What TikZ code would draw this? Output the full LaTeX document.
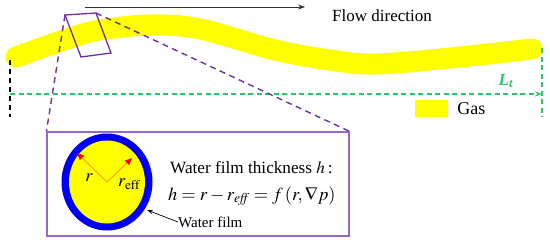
\documentclass[tikz,border=0pt]{standalone}
\usepackage{mathptmx}
\usepackage{fontspec}
\setmainfont{Liberation Serif}
\usetikzlibrary{arrows.meta,positioning}
\definecolor{Pipe}{HTML}{FFFF00}
\definecolor{Film}{HTML}{0000F0}
\definecolor{Purple}{HTML}{7030A0}
\definecolor{Frame}{HTML}{9966CC}
\definecolor{Green}{HTML}{2DC46A}
\definecolor{Orange}{HTML}{FF9A1E}
\tikzset{
  zoomline/.style={Purple,line width=1.4pt,dash pattern=on 6pt off 4.5pt},
  lenline/.style={Green,line width=1.8pt,dash pattern=on 5pt off 3.5pt},
  radarrow/.style={Orange,line width=0.9pt,-{Triangle[length=7pt,width=6pt,color=red]}},
  lab/.style={inner sep=0pt,anchor=west},
}
\newcommand{\fsz}[1]{\fontsize{#1}{#1}\selectfont}

\begin{document}
\begin{tikzpicture}[x=1pt,y=-1pt]
  \useasboundingbox (0,0) rectangle (550,242);
  \draw[Pipe,line width=21pt,line cap=round] plot[smooth,tension=0.6] coordinates
    {(16,57) (67,39) (100,30) (150,25) (200,29) (275,50) (330,60) (375,64) (450,58) (532,49)};
  % flow direction
  \coordinate (flowA) at (85,7);
  \coordinate (flowB) at (305,7);
  \draw[line width=0.7pt,black!80,-{Stealth[length=7pt,width=5pt]}] (flowA) -- (flowB);
  \node[lab,font=\fsz{17}] (flow) at (332,16) {Flow direction};
  % length of the pipe
  \coordinate (lenL) at (10,94);
  \coordinate (lenR) at (542,94);
  \draw[lenline,-{Stealth[length=7pt,width=5pt]}] (lenL) -- (lenR);
  \draw[black,line width=1.5pt,dash pattern=on 5pt off 4pt] (10,60) -- (10,117);
  \draw[lenline] (542,48) -- (542,117);
  \node[Green,font=\fsz{17},inner sep=0pt] (Lt) at (506,81) {\textbf{\textit{L}}\textsubscript{\textbf{\textit{t}}}};
  \node[fill=Pipe,minimum width=33pt,minimum height=17pt,inner sep=0pt] (swatch) at (431.5,108.5) {};
  \node[right=9pt of swatch,inner sep=0pt,font=\fsz{18}] (gas) {Gas};
  % zoomed section
  \coordinate (pA) at (65,15);
  \coordinate (pB) at (96,13);
  \coordinate (pC) at (111,53);
  \coordinate (pD) at (81,57);
  \draw[Purple,line width=1.3pt] (pA) -- (pB) -- (pC) -- (pD) -- cycle;
  \node[draw=Frame,line width=1.2pt,minimum width=302pt,minimum height=104pt,fill=white] (zoombox) at (198,184) {};
  \draw[zoomline] (pA) -- (zoombox.north west);
  \draw[zoomline] (pB) -- (zoombox.north east);
  \coordinate (c) at (107,182);
  \fill[Film] (c) ellipse [x radius=45.5pt,y radius=48.5pt];
  \fill[Pipe] (c) ellipse [x radius=38pt,y radius=41.5pt];
  \coordinate (rtipL) at (77,153);
  \coordinate (rtipR) at (132,158);
  \draw[radarrow] (c) -- (rtipL);
  \draw[radarrow] (c) -- (rtipR);
  \node[font=\fsz{18}] (rlab) at (89,178) {$r$};
  \node[font=\fsz{18}] (refflab) at (129,184) {$r_{\mathrm{eff}}$};
  \node[lab,font=\fsz{15}] (filmlab) at (178,222) {Water film};
  \coordinate (filmpt) at (147,210);
  \draw[line width=0.7pt,-{Stealth[length=6pt,width=4pt]}] (filmlab.west) -- (filmpt);
  \node[lab,font=\fsz{17.2}] (thick) at (170,168) {Water film thickness $h$\,:};
  \node[lab,font=\fsz{18.4}] (formula) at (168,196) {$h = r - r_{\mathit{eff}} = f\,(r,\nabla p)$};
\end{tikzpicture}
\end{document}
